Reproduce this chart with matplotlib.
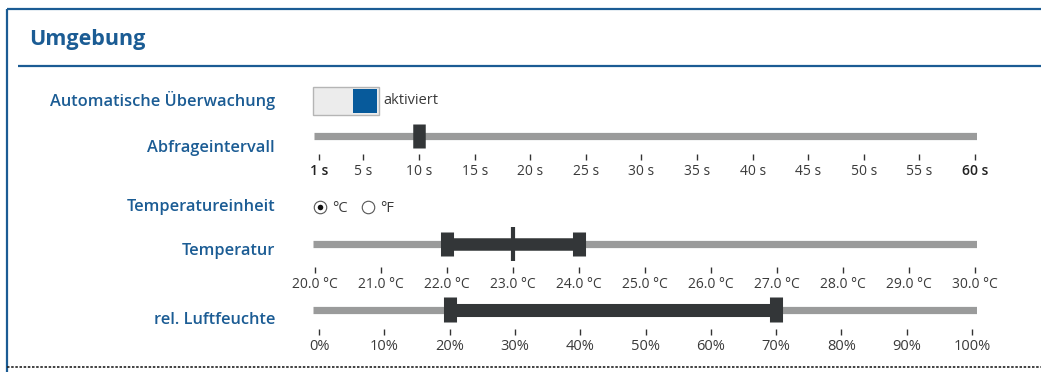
import numpy as np
import matplotlib.pyplot as plt
from matplotlib.patches import Rectangle

plt.rcParams['font.family'] = ['Open Sans', 'DejaVu Sans']

# --- data ---
interval_ticks = [1, 5, 10, 15, 20, 25, 30, 35, 40, 45, 50, 55, 60]
interval_labels = [f'{t} s' for t in interval_ticks]
interval_value = 10

temp_ticks = [20.0, 21.0, 22.0, 23.0, 24.0, 25.0, 26.0, 27.0, 28.0, 29.0, 30.0]
temp_labels = [f'{t:.1f} °C' for t in temp_ticks]
temp_range = (22.0, 24.0)
temp_current = 23.0

hum_ticks = [0, 10, 20, 30, 40, 50, 60, 70, 80, 90, 100]
hum_labels = [f'{t}%' for t in hum_ticks]
hum_range = (20, 70)

row_labels = ['Automatische Überwachung', 'Abfrageintervall', 'Temperatureinheit',
              'Temperatur', 'rel. Luftfeuchte']

BLUE = '#1b5c94'
TRACK = '#9a9b9b'
DARK = '#333638'
TXT = '#3a3a3a'
W, H = 1041, 372

fig = plt.figure(figsize=(W / 100, H / 100), dpi=100)
bg = fig.add_axes([0, 0, 1, 1])
bg.set_xlim(0, W)
bg.set_ylim(H, 0)
bg.axis('off')

# frame + header
bg.plot([7, 7], [9, H], color=BLUE, lw=1.6, solid_capstyle='butt')
bg.plot([7, W], [9, 9], color=BLUE, lw=1.6, solid_capstyle='butt')
bg.plot([18, W], [66, 66], color=BLUE, lw=1.6, solid_capstyle='butt')
bg.text(29, 40, 'Umgebung', color=BLUE, fontsize=15.5, fontweight='bold', va='center')
bg.plot([7, W], [367, 367], color='#222222', lw=1.2, ls=(0, (1.5, 1)))

# row labels
for lab, y in zip(row_labels, [101, 148, 207, 251, 320]):
    bg.text(275, y, lab, color=BLUE, fontsize=11.8, fontweight='semibold',
            ha='right', va='center')

# toggle
bg.add_patch(Rectangle((313, 87), 66, 28, fc='#ececec', ec='#b5b5b5', lw=1))
bg.add_patch(Rectangle((353, 89), 24, 24, fc='#075a9b', ec='none'))
bg.text(383, 101, 'aktiviert', color=TXT, fontsize=10.5, va='center')

# radio buttons
bg.plot([320], [207], 'o', ms=9, mfc='white', mec='#555555', mew=0.8)
bg.plot([320], [207], 'o', ms=4, mfc='#111111', mec='none')
bg.text(332, 208, '°C', color=TXT, fontsize=10.5, va='center')
bg.plot([368], [207], 'o', ms=9, mfc='white', mec='#555555', mew=0.8)
bg.text(380, 208, '°F', color=TXT, fontsize=10.5, va='center')


def slider(track_px, v0, v1, p0, p1, y_top, y_bot, ticks, labels, fs=10):
    # axes spans the track; x limits chosen so that v0 -> p0 px and v1 -> p1 px
    scale = (v1 - v0) / (p1 - p0)
    lo = v0 - (p0 - track_px[0]) * scale
    hi = v1 + (track_px[1] - p1) * scale
    ax = fig.add_axes([track_px[0] / W, 1 - y_bot / H,
                       (track_px[1] - track_px[0]) / W, (y_bot - y_top) / H])
    ax.set_xlim(lo, hi)
    ax.set_ylim(-1, 1)
    ax.patch.set_alpha(0)
    for s in ax.spines.values():
        s.set_visible(False)
    ax.set_yticks([])
    ax.set_xticks(ticks)
    ax.set_xticklabels(labels, fontsize=fs, color=TXT)
    ax.tick_params(axis='x', length=4, width=1, color='#333333', pad=3.5)
    ax.axhline(0, color=TRACK, lw=5.2, solid_capstyle='butt')
    return ax


# Abfrageintervall
ax1 = slider((314, 977), 1, 60, 319, 975, 118, 154, interval_ticks, interval_labels)
ax1.vlines(interval_value, -0.67, 0.67, color=DARK, lw=9)
for t in ax1.get_xticklabels():
    if t.get_text() in ('1 s', '60 s'):
        t.set_fontweight('semibold')
        t.set_color('#222222')

# Temperatur
ax2 = slider((313, 977), 20, 30, 315, 975, 221, 267, temp_ticks, temp_labels)
ax2.hlines(0, temp_range[0], temp_range[1], color=DARK, lw=9)
ax2.vlines(list(temp_range), -0.54, 0.54, color=DARK, lw=9.4)
ax2.vlines(temp_current, -0.74, 0.74, color=DARK, lw=3)

# rel. Luftfeuchte
ax3 = slider((313, 977), 0, 100, 319, 972, 290, 329, hum_ticks, hum_labels, fs=10.5)
ax3.hlines(0, hum_range[0], hum_range[1], color=DARK, lw=9.4)
ax3.vlines(list(hum_range), -0.62, 0.62, color=DARK, lw=9.4)

fig.savefig('out.png', dpi=100)
